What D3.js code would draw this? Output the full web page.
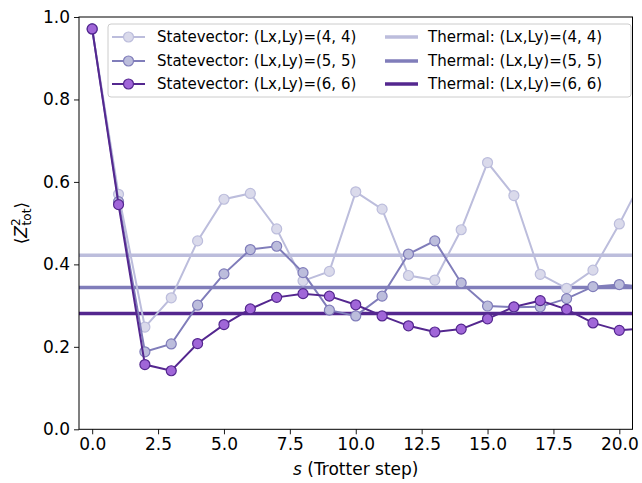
<!DOCTYPE html>
<html>
<head>
<meta charset="utf-8">
<script src="https://cdn.jsdelivr.net/npm/d3@7"></script>
<style>
  body { margin: 0; background: #fff; }
  svg { display: block; font-family: "DejaVu Sans", sans-serif; }
</style>
</head>
<body>
<svg id="chart" width="642" height="483"></svg>
<script>
const steps = d3.range(0, 22);
const sv44 = [0.971, 0.570, 0.248, 0.319, 0.457, 0.558, 0.572, 0.486, 0.360, 0.383, 0.576, 0.534, 0.373, 0.362, 0.484, 0.647, 0.567, 0.376, 0.342, 0.386, 0.498, 0.622];
const sv55 = [0.971, 0.552, 0.188, 0.207, 0.301, 0.377, 0.436, 0.444, 0.380, 0.289, 0.275, 0.323, 0.425, 0.457, 0.355, 0.299, 0.296, 0.297, 0.317, 0.346, 0.351, 0.345];
const sv66 = [0.971, 0.545, 0.157, 0.142, 0.208, 0.254, 0.292, 0.320, 0.329, 0.323, 0.302, 0.275, 0.251, 0.236, 0.243, 0.268, 0.297, 0.312, 0.291, 0.258, 0.240, 0.245];
const thermal = [0.422, 0.344, 0.281];
const sizes = ["(4, 4)", "(5, 5)", "(6, 6)"];
const xTicks = [0, 2.5, 5, 7.5, 10, 12.5, 15, 17.5, 20];
const yTicks = [0, 0.2, 0.4, 0.6, 0.8, 1.0];

const lineColors = ["#bcbddc", "#807dba", "#54278f"];
const fillColors = ["#dadaeb", "#bcbddc", "#a066d8"];
const svData = [sv44, sv55, sv66];

const svg = d3.select("#chart");
const L = 79, R = 632.5, T = 17, B = 429.3;
const x = d3.scaleLinear().domain([-0.5, 20.5]).range([L, R]);
const y = d3.scaleLinear().domain([0, 1]).range([B, T]);

svg.append("defs").append("clipPath").attr("id", "clip")
  .append("rect").attr("x", L).attr("y", T).attr("width", R - L).attr("height", B - T);

const plot = svg.append("g").attr("clip-path", "url(#clip)");

// thermal lines
thermal.forEach((v, i) => {
  plot.append("line")
    .attr("x1", x(-0.5) - 5).attr("x2", x(20.5) + 5)
    .attr("y1", y(v)).attr("y2", y(v))
    .attr("stroke", lineColors[i]).attr("stroke-width", 3.5);
});

// statevector series
const line = d3.line().x((d, i) => x(steps[i])).y(d => y(d));
svData.forEach((arr, i) => {
  const g = plot.append("g");
  g.append("path").datum(arr).attr("d", line)
    .attr("fill", "none").attr("stroke", lineColors[i]).attr("stroke-width", 2);
  g.selectAll("circle").data(arr).join("circle")
    .attr("cx", (d, j) => x(steps[j])).attr("cy", d => y(d)).attr("r", 5)
    .attr("fill", fillColors[i]).attr("stroke", lineColors[i]).attr("stroke-width", 1.2);
});

// axes
const xAxis = d3.axisBottom(x).tickValues(xTicks).tickFormat(d3.format(".1f")).tickSize(5).tickPadding(4);
const yAxis = d3.axisLeft(y).tickValues(yTicks).tickFormat(d3.format(".1f")).tickSize(5).tickPadding(4);
const gx = svg.append("g").attr("transform", `translate(0,${B})`).call(xAxis);
const gy = svg.append("g").attr("transform", `translate(${L},0)`).call(yAxis);
[gx, gy].forEach(g => {
  g.select(".domain").remove();
  g.selectAll("text").attr("font-size", 17).attr("fill", "#000").attr("font-family", "DejaVu Sans");
  g.selectAll("line").attr("stroke", "#000").attr("stroke-width", 0.9);
});
svg.append("rect").attr("x", L).attr("y", T).attr("width", R - L).attr("height", B - T)
  .attr("fill", "none").attr("stroke", "#000").attr("stroke-width", 1);

// axis labels
const xl = svg.append("text").attr("x", (L + R) / 2).attr("y", 475).attr("text-anchor", "middle")
  .attr("font-size", 17);
xl.append("tspan").attr("font-style", "italic").text("s");
xl.append("tspan").text(" (Trotter step)");

const yl = svg.append("text").attr("transform", `translate(27,${(T + B) / 2}) rotate(-90)`)
  .attr("text-anchor", "middle").attr("font-size", 17);
yl.append("tspan").text("⟨");
yl.append("tspan").attr("font-style", "italic").text("Z");
yl.append("tspan").attr("font-size", 12).attr("dy", -7).text("2");
yl.append("tspan").attr("font-size", 12).attr("dx", -7).attr("dy", 11).text("tot");
yl.append("tspan").attr("dy", -4).text("⟩");

// legend
const lg = svg.append("g");
lg.append("rect").attr("x", 108).attr("y", 24).attr("width", 523).attr("height", 73).attr("rx", 3)
  .attr("fill", "rgba(255,255,255,0.8)").attr("stroke", "#cccccc").attr("stroke-width", 1);
const rowsY = [37, 61, 84];
sizes.forEach((s, i) => {
  const yy = rowsY[i];
  lg.append("line").attr("x1", 112).attr("x2", 145).attr("y1", yy).attr("y2", yy)
    .attr("stroke", lineColors[i]).attr("stroke-width", 2);
  lg.append("circle").attr("cx", 128.5).attr("cy", yy).attr("r", 5)
    .attr("fill", fillColors[i]).attr("stroke", lineColors[i]).attr("stroke-width", 1.2);
  lg.append("text").attr("x", 157).attr("y", yy).attr("dy", "0.35em").attr("font-size", 15)
    .text("Statevector: (Lx,Ly)=" + s);
  lg.append("line").attr("x1", 385).attr("x2", 418).attr("y1", yy).attr("y2", yy)
    .attr("stroke", lineColors[i]).attr("stroke-width", 3.5);
  lg.append("text").attr("x", 428).attr("y", yy).attr("dy", "0.35em").attr("font-size", 15)
    .text("Thermal: (Lx,Ly)=" + s);
});
</script>
</body>
</html>
